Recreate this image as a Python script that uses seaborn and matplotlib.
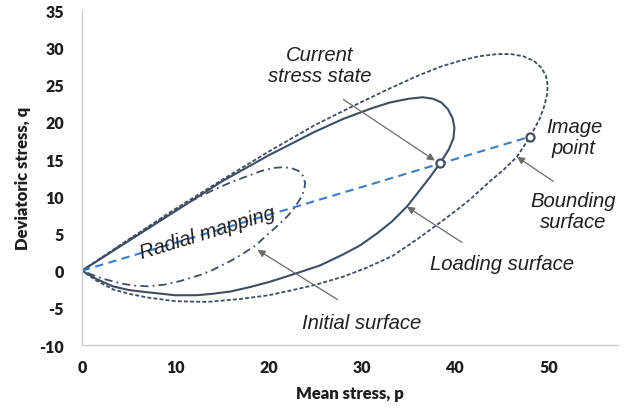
import numpy as np
import pandas as pd
import matplotlib
matplotlib.use("Agg")
import matplotlib.pyplot as plt
import seaborn as sns

# Bounding surface in (p, q), traced clockwise starting at the origin
bounding_p = [0, 5, 10, 15, 20, 25, 30, 33, 36, 38.4, 40.5, 42.5, 44.5, 46.0, 47.3, 48.4,
              49.2, 49.7, 49.9, 49.8, 49.5, 49.0, 48.0, 46.6, 45.2, 43.7, 41.6, 40.0, 38.4,
              36.0, 33.3, 30.5, 28.0, 25.0, 22.6, 20.0, 17.0, 13.4, 10.0, 7.0, 5.0, 3.3, 1.5, 0]
bounding_q = [0, 4.2, 8.3, 12.2, 16.0, 19.6, 22.7, 24.5, 26.2, 27.4, 28.2, 28.8, 29.1, 29.1, 28.8, 28.2,
              27.3, 26.2, 24.9, 23.5, 22.0, 20.3, 18.0, 15.3, 13.6, 12.0, 9.6, 8.0, 6.5,
              4.3, 2.0, 0.4, -0.8, -1.9, -2.6, -3.3, -3.8, -4.2, -4.1, -3.6, -3.1, -2.5, -1.3, 0]

# Loading surface
loading_p = [0, 5, 10, 15, 20, 25, 28, 31, 33, 35, 36.5, 37.6, 38.5, 39.2, 39.7, 39.9, 39.8,
             39.3, 38.4, 37.3, 36.0, 34.8, 33.2, 31.6, 29.8, 28.0, 25.5, 22.6, 20.1, 18.0,
             15.9, 14.0, 12.3, 10.0, 7.0, 5.0, 3.3, 1.5, 0]
loading_q = [0, 4.0, 8.0, 12.0, 15.5, 18.7, 20.4, 21.8, 22.6, 23.1, 23.3, 23.1, 22.6, 21.7, 20.5, 19.2, 17.8,
             16.3, 14.5, 12.6, 10.5, 8.6, 6.6, 5.0, 3.4, 2.2, 0.7, -0.5, -1.5, -2.2,
             -2.8, -3.1, -3.3, -3.3, -2.9, -2.6, -2.1, -1.1, 0]

# Initial surface
initial_p = [0, 4, 8, 11.3, 14.0, 16.0, 17.7, 19.2, 20.5, 21.5, 22.4, 23.2, 23.7, 23.9, 23.8,
             23.4, 22.8, 22.0, 21.1, 20.1, 18.5, 17.0, 15.9, 14.0, 12.6, 10.5, 8.7, 7.0,
             5.5, 4.1, 2.0, 0]
initial_q = [0, 3.3, 6.5, 9.1, 10.8, 11.9, 12.7, 13.4, 13.8, 13.9, 13.8, 13.4, 12.7, 11.8, 10.8,
             9.7, 8.5, 7.3, 6.2, 5.1, 3.3, 2.1, 1.3, 0.1, -0.6, -1.4, -1.9, -2.1,
             -2.0, -1.7, -1.0, 0]

# Current stress state and its image point on the bounding surface
state_p = [38.4, 48.0]
state_q = [14.5, 18.0]

# Radial mapping line from the origin through the image point
radial_p = [0, 48.0]
radial_q = [0, 18.0]

x_major = [0, 10, 20, 30, 40, 50]
y_major = [-10, -5, 0, 5, 10, 15, 20, 25, 30, 35]

sns.set_theme(style="white")
plt.rcParams["font.family"] = ["Lato", "DejaVu Sans"]

fig, ax = plt.subplots(figsize=(6.31, 4.14), dpi=100)
fig.subplots_adjust(left=0.130, right=0.979, bottom=0.164, top=0.973)

curve_color = "#3f4d63"
blue = "#3a7cc8"


def draw(p, q, **kw):
    df = pd.DataFrame({"p": p, "q": q})
    sns.lineplot(data=df, x="p", y="q", sort=False, estimator=None, ax=ax, **kw)


draw(bounding_p, bounding_q, color=curve_color, lw=1.3, linestyle=(0, (2.2, 1.2)))
draw(loading_p, loading_q, color=curve_color, lw=1.5, linestyle="-")
draw(initial_p, initial_q, color=curve_color, lw=1.3, linestyle=(0, (4.5, 2.3, 1.0, 2.3)))
draw(radial_p, radial_q, color=blue, lw=1.5, linestyle=(0, (4.0, 2.6)))

sns.scatterplot(x=state_p, y=state_q, ax=ax, marker="o", s=34, color="white",
                edgecolor=curve_color, linewidth=1.6, zorder=5)

ax.set_xlim(0, 57.4)
ax.set_ylim(-10, 35)
ax.set_xticks(x_major)
ax.set_xticks(np.arange(0, 57, 2), minor=True)
ax.set_yticks(y_major)
ax.set_yticks(np.arange(-10, 35.5, 1), minor=True)
ax.set_xticklabels([str(v) for v in x_major])
ax.set_yticklabels([str(v) for v in y_major])

ax.tick_params(which="both", direction="in", color="#cfcfcf", length=4, width=0.8)
ax.tick_params(axis="x", which="major", pad=10, labelsize=11.5, labelcolor="#1e1e1e")
ax.tick_params(axis="y", which="major", pad=13, labelsize=11.5, labelcolor="#1e1e1e")
for lbl in ax.get_xticklabels() + ax.get_yticklabels():
    lbl.set_fontweight("heavy")

for side in ("top", "right"):
    ax.spines[side].set_visible(False)
for side in ("left", "bottom"):
    ax.spines[side].set_color("#cfcfcf")
    ax.spines[side].set_linewidth(1.0)

ax.set_xlabel("Mean stress, p", fontsize=12, fontweight="heavy", color="#1e1e1e", labelpad=7)
ax.set_ylabel("Deviatoric stress, q", fontsize=12, fontweight="heavy", color="#1e1e1e", labelpad=6)

txt = dict(fontsize=14.6, style="italic", color="#1f1f1f", family=["Liberation Sans", "DejaVu Sans"],
           ha="center", va="center", linespacing=1.12)
ax.text(25.5, 27.6, "Current\nstress state", **txt)
ax.text(52.7, 18.0, "Image\npoint", **txt)
ax.text(52.6, 8.0, "Bounding\nsurface", **txt)
ax.text(45.0, 0.9, "Loading surface", **txt)
ax.text(30.0, -6.9, "Initial surface", **txt)
ax.text(13.4, 5.2, "Radial mapping", rotation=17, rotation_mode="anchor", **txt)

arrow = dict(arrowstyle="-|>", color="#6a6a6a", lw=0.9, mutation_scale=11, shrinkA=0, shrinkB=0)
for head, tail in [((37.8, 14.8), (28.0, 23.0)),
                   ((46.6, 15.3), (50.5, 12.0)),
                   ((34.8, 8.6), (40.7, 3.8)),
                   ((18.8, 2.8), (27.4, -3.9))]:
    ax.annotate("", xy=head, xytext=tail, arrowprops=arrow)

fig.savefig("out.png", dpi=100)
